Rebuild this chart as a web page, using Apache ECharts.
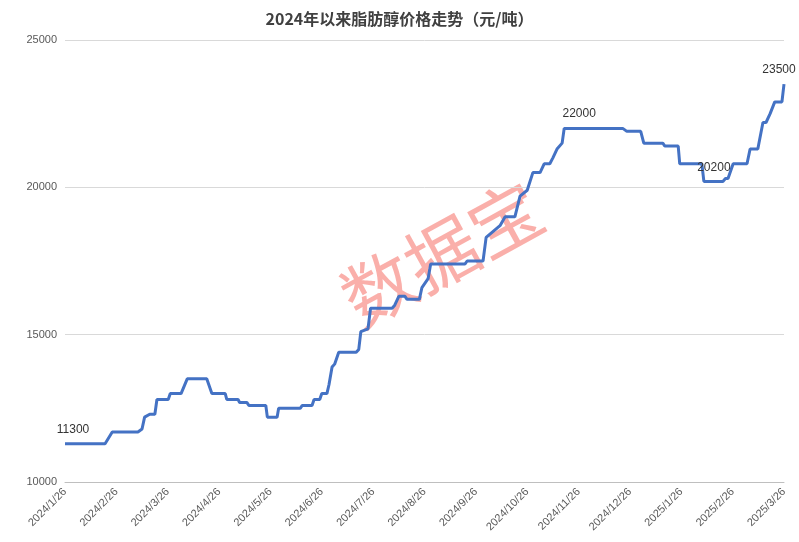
<!DOCTYPE html>
<html><head><meta charset="utf-8">
<script src="https://cdn.jsdelivr.net/npm/echarts@6/dist/echarts.min.js"></script>
<style>html,body{margin:0;padding:0;background:#fff}#c{width:799px;height:542px}</style>
</head><body><div id="c"></div>
<script>
const tickLabels = ['2024/1/26','2024/2/26','2024/3/26','2024/4/26','2024/5/26','2024/6/26','2024/7/26','2024/8/26','2024/9/26','2024/10/26','2024/11/26','2024/12/26','2025/1/26','2025/2/26','2025/3/26'];
const monthPos = [0,0.78,0.92,1.42,1.5,1.55,1.65,1.75,1.79,2.01,2.05,2.26,2.38,2.76,2.86,3.12,3.15,3.37,3.4,3.54,3.58,3.91,3.94,4.13,4.16,4.58,4.62,4.81,4.85,4.96,5.0,5.1,5.14,5.2,5.25,5.33,5.67,5.72,5.76,5.9,5.95,6.37,6.42,6.5,6.62,6.66,6.9,6.95,7.07,7.12,7.79,7.83,8.14,8.2,8.47,8.57,8.76,8.86,9.0,9.11,9.25,9.33,9.44,9.5,9.58,9.68,9.72,10.86,10.94,11.21,11.27,11.64,11.68,11.94,11.97,12.4,12.44,12.81,12.86,12.91,13.01,13.28,13.34,13.49,13.59,13.65,13.73,13.82,13.96,14];
const prices = [11300,11300,11700,11700,11800,12200,12300,12300,12800,12800,13000,13000,13500,13500,13000,13000,12800,12800,12700,12700,12600,12600,12200,12200,12500,12500,12600,12600,12800,12800,13000,13000,13300,13900,14000,14400,14400,14500,15100,15200,15900,15900,16000,16300,16300,16200,16200,16600,16900,17400,17400,17500,17500,18300,18700,19000,19000,19700,19900,20500,20500,20800,20800,21000,21300,21500,22000,22000,21900,21900,21500,21500,21400,21400,20800,20800,20200,20200,20300,20300,20800,20800,21300,21300,22200,22200,22500,22900,22900,23500];
const labeledIdx = [0,66,76,89];
const labelOffset = [[8,-14],[15,-15],[10,-14],[-5,-15]];

const chart = echarts.init(document.getElementById('c'));
chart.setOption({
  animation:false,
  title:{text:'2024年以来脂肪醇价格走势（元/吨）', left:'center', top:6, textStyle:{fontSize:16, fontWeight:'bold', color:'#404040', fontFamily:'Noto Sans CJK SC'}},
  grid:{left:65, right:15, top:40, bottom:60},
  xAxis:{type:'value', min:0, max:14, interval:1,
    axisLine:{lineStyle:{color:'#bfbfbf'}}, axisTick:{show:false}, splitLine:{show:false},
    axisLabel:{rotate:45, fontSize:11, color:'#595959', formatter:v=>tickLabels[Math.round(v)]||''}},
  yAxis:{type:'value', min:10000, max:25000, interval:5000,
    axisLine:{show:false}, axisTick:{show:false},
    splitLine:{lineStyle:{color:'#d9d9d9'}},
    axisLabel:{fontSize:11, color:'#595959', formatter:v=>String(v)}},
  graphic:[{type:'text', left:330, top:170, rotation:Math.PI*0.16,
    style:{text:'数据宝', font:'72px "Noto Sans CJK SC"', fill:'rgba(245,110,100,0.55)'}}],
  series:[{type:'line', data:monthPos.map((m,i)=>[m,prices[i]]), symbol:'none', lineStyle:{color:'#4472C4', width:3}, itemStyle:{color:'#4472C4'},
    markPoint:{symbol:'circle', symbolSize:0,
      data:labeledIdx.map((i,k)=>({coord:[monthPos[i],prices[i]],
        label:{show:true, formatter:String(prices[i]), color:'#333', fontSize:12, offset:labelOffset[k]}}))}}]
});
</script></body></html>
